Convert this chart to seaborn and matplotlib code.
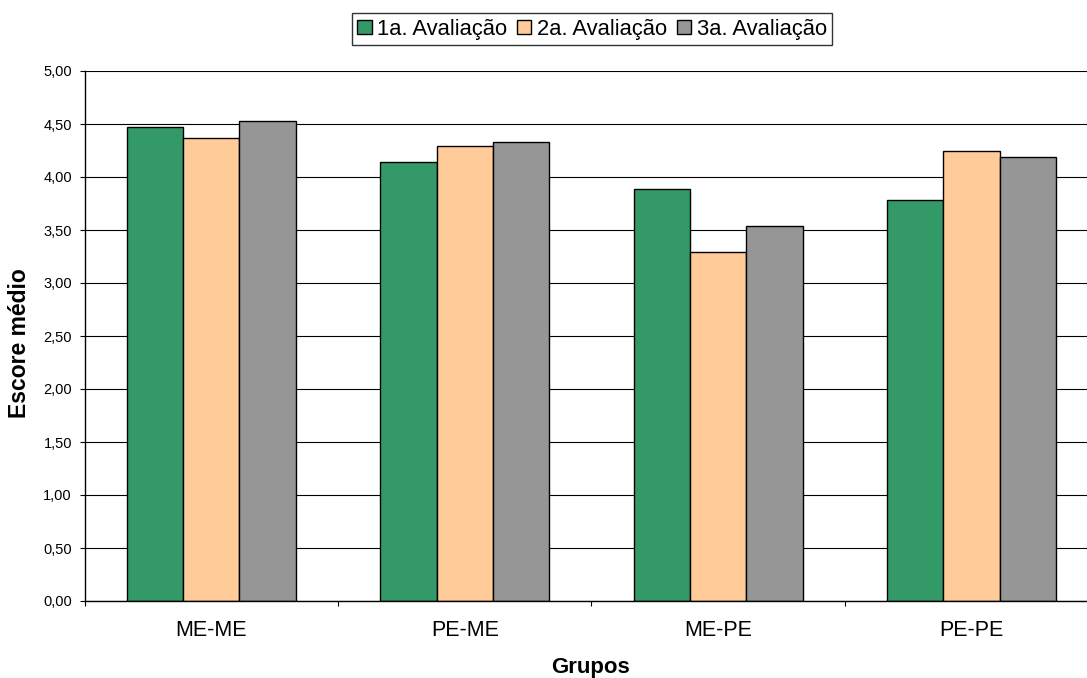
import matplotlib
matplotlib.use("Agg")
import matplotlib.pyplot as plt
from matplotlib.ticker import FuncFormatter
import numpy as np
import pandas as pd
import seaborn as sns

# values
grupos = ["ME-ME", "PE-ME", "ME-PE", "PE-PE"]
avaliacoes = ["1a. Avaliação", "2a. Avaliação", "3a. Avaliação"]
aval_1 = [4.47, 4.14, 3.89, 3.78]
aval_2 = [4.37, 4.29, 3.29, 4.25]
aval_3 = [4.53, 4.33, 3.54, 4.19]
cores = ["#339966", "#FFCC99", "#969696"]

rows = []
for nome, vals in zip(avaliacoes, [aval_1, aval_2, aval_3]):
    for g, v in zip(grupos, vals):
        rows.append({"Grupos": g, "Avaliação": nome, "Escore": v})
df = pd.DataFrame(rows)

sns.set_style("white")
plt.rcParams["font.family"] = ["Liberation Sans", "DejaVu Sans"]
plt.rcParams["text.color"] = "black"
plt.rcParams["xtick.color"] = "black"
plt.rcParams["ytick.color"] = "black"

W, H = 1087, 678
fig = plt.figure(figsize=(W / 100, H / 100), dpi=100)
ax = fig.add_axes([84.6 / W, 77 / H, 1013.6 / W, 530 / H])

sns.barplot(data=df, x="Grupos", y="Escore", hue="Avaliação", order=grupos,
            hue_order=avaliacoes, palette=cores, width=0.667, gap=0,
            edgecolor="black", linewidth=1.0, saturation=1, ax=ax)

ax.set_ylim(0, 5)
ax.set_xlim(-0.5, 3.5)
ax.set_yticks(np.arange(0, 5.01, 0.5))
ax.yaxis.set_major_formatter(FuncFormatter(lambda v, _: f"{v:.2f}".replace(".", ",")))
ax.tick_params(axis="y", direction="out", length=3.6, width=0.8, colors="black",
               labelsize=10.5, pad=5.5, left=True)
ax.set_xticks(np.arange(-0.5, 3.6, 1.0), minor=True)
ax.tick_params(axis="x", which="major", length=0, labelsize=15.5, pad=13.5,
               labelcolor="black")
ax.tick_params(axis="x", which="minor", direction="out", length=3.6, width=0.8,
               color="black", bottom=True)

ax.yaxis.grid(True, color="black", linewidth=0.8)
ax.set_axisbelow(True)
for s in ["top", "right"]:
    ax.spines[s].set_visible(False)
for s in ["left", "bottom"]:
    ax.spines[s].set_color("black")
    ax.spines[s].set_linewidth(1.0)

ax.set_xlabel("")
ax.set_ylabel("")
fig.text(591 / W, 5 / H, "Grupos", ha="center", va="baseline",
         fontsize=16, fontweight="bold")
fig.text(20 / W, 1 - 343 / H, "Escore médio", ha="center", va="center",
         rotation=90, fontsize=16.5, fontweight="bold")

handles, labels = ax.get_legend_handles_labels()
ax.get_legend().remove()
leg = fig.legend(handles, labels, loc="upper center",
                 bbox_to_anchor=(592 / W, 1 - 13.3 / H), ncol=3, fontsize=15.8,
                 frameon=True, fancybox=False, edgecolor="black",
                 handlelength=0.65, handleheight=0.65, handletextpad=0.25,
                 columnspacing=0.45, borderpad=0.25, borderaxespad=0)
leg.get_frame().set_linewidth(1.0)

fig.savefig("out.png", dpi=100)
